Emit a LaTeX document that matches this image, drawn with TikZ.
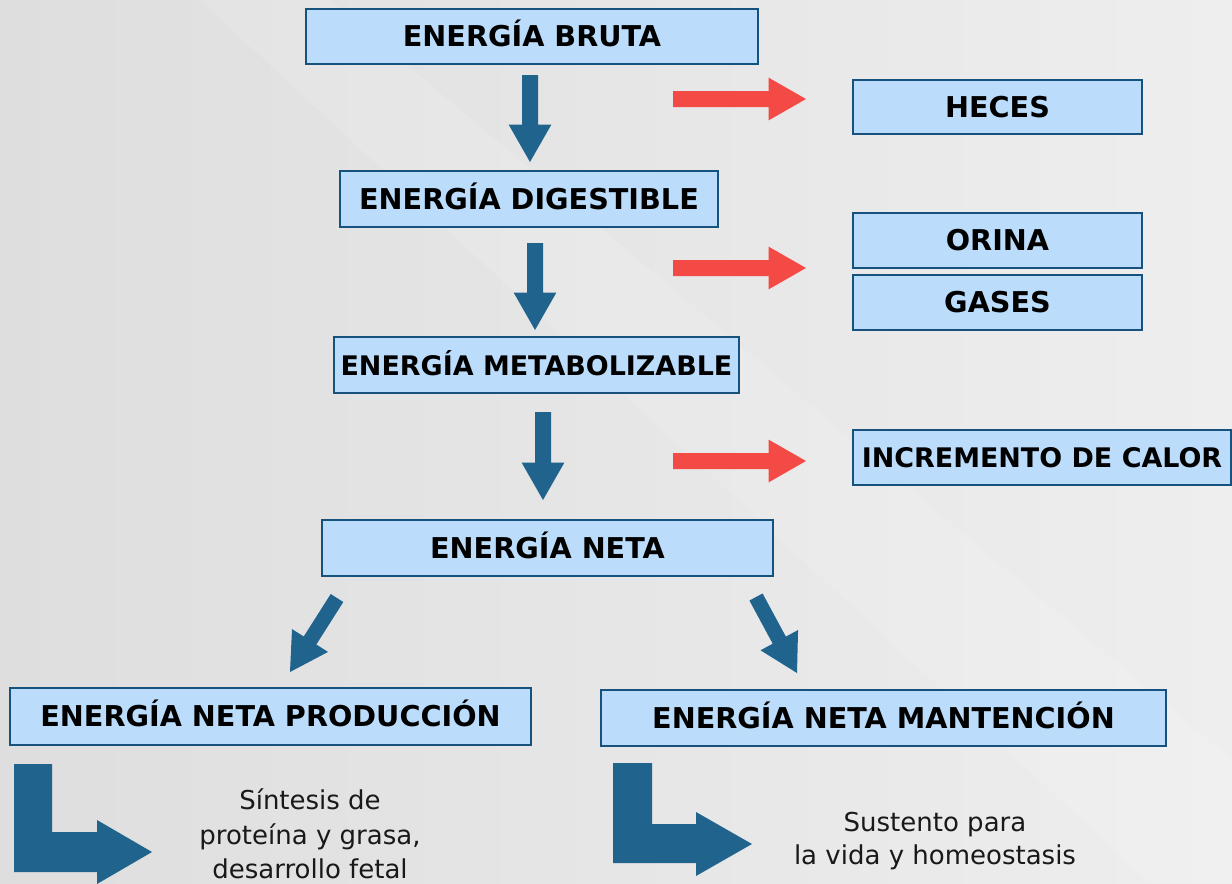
\documentclass[tikz,border=0pt]{standalone}
\usepackage{fontspec}
\setmainfont{DejaVu Sans}
\usetikzlibrary{calc}
\definecolor{boxfill}{HTML}{BBDDFB}
\definecolor{boxline}{HTML}{17527F}
\definecolor{arrblue}{HTML}{20638D}
\definecolor{arrred}{HTML}{F34A45}
\definecolor{bgL}{HTML}{DEDEDE}
\definecolor{bgR}{HTML}{EEEEEE}
\newcommand\blockarrow[6]{%
  \coordinate (hb) at ($(#3)!#6!(#2)$);
  \fill[#1] ($(#2)!#4!90:(#3)$) -- ($(hb)!#4!-90:(#2)$) -- ($(hb)!#5!-90:(#2)$) -- (#3)
    -- ($(hb)!#5!90:(#2)$) -- ($(hb)!#4!90:(#2)$) -- ($(#2)!#4!-90:(#3)$) -- cycle;}
\tikzset{
  box/.style={draw=boxline, line width=2.1pt, fill=boxfill, inner sep=0pt,
    font=\fontsize{21.5}{24}\selectfont\bfseries, text=black,
    text height=15.6pt, text depth=0.6pt},
  boxsm/.style={box, font=\fontsize{20.2}{24}\selectfont\bfseries},
  plain/.style={font=\fontsize{19.5}{26}\selectfont, align=center, text=black!90}
}
\begin{document}
\begin{tikzpicture}[x=0.75pt,y=-0.75pt]
\useasboundingbox (0,0) rectangle (1232,883);
\shade[left color=bgL, right color=bgR] (0,0) rectangle (1232,883);
\fill[white, opacity=0.12] (200,0) -- (330,0) -- (1232,760) -- (1232,883) -- (1150,883) -- cycle;
% boxes
\node[box, minimum width=452*0.75pt, minimum height=55*0.75pt] (eb) at (532,36.5) {ENERGÍA BRUTA};
\node[box, minimum width=289*0.75pt, minimum height=54*0.75pt] (hec) at (997.5,107) {HECES};
\node[box, minimum width=378*0.75pt, minimum height=56*0.75pt] (ed) at (529,199) {ENERGÍA DIGESTIBLE};
\node[box, minimum width=289*0.75pt, minimum height=55*0.75pt] (ori) at (997.5,240.5) {ORINA};
\node[box, minimum width=289*0.75pt, minimum height=55*0.75pt] (gas) at (997.5,302.5) {GASES};
\node[boxsm, minimum width=405*0.75pt, minimum height=56*0.75pt] (em) at (536.5,365) {ENERGÍA METABOLIZABLE};
\node[boxsm, minimum width=378*0.75pt, minimum height=55*0.75pt] (ic) at (1042,457.5) {INCREMENTO DE CALOR};
\node[box, minimum width=451*0.75pt, minimum height=56*0.75pt] (en) at (547.5,548) {ENERGÍA NETA};
\node[box, minimum width=521*0.75pt, minimum height=57*0.75pt] (enp) at (270.5,716.5) {ENERGÍA NETA PRODUCCIÓN};
\node[box, minimum width=565*0.75pt, minimum height=56*0.75pt] (enm) at (883.5,718) {ENERGÍA NETA MANTENCIÓN};
% down arrows
\coordinate (a1s) at (530,75);  \coordinate (a1e) at (530,162);
\coordinate (a2s) at (535,243); \coordinate (a2e) at (535,330);
\coordinate (a3s) at (543,412); \coordinate (a3e) at (543,500);
\blockarrow{arrblue}{a1s}{a1e}{6pt}{16pt}{28pt}
\blockarrow{arrblue}{a2s}{a2e}{6pt}{16pt}{28pt}
\blockarrow{arrblue}{a3s}{a3e}{6pt}{16pt}{28pt}
% red arrows
\coordinate (r1s) at (673,99);  \coordinate (r1e) at (806,99);
\coordinate (r2s) at (673,268); \coordinate (r2e) at (806,268);
\coordinate (r3s) at (673,461); \coordinate (r3e) at (806,461);
\blockarrow{arrred}{r1s}{r1e}{6pt}{16pt}{28pt}
\blockarrow{arrred}{r2s}{r2e}{6pt}{16pt}{28pt}
\blockarrow{arrred}{r3s}{r3e}{6pt}{16pt}{28pt}
% diagonal arrows
\coordinate (d1s) at (337,598); \coordinate (d1e) at (290,672);
\coordinate (d2s) at (756,597); \coordinate (d2e) at (797,673);
\blockarrow{arrblue}{d1s}{d1e}{5.6pt}{16pt}{28pt}
\blockarrow{arrblue}{d2s}{d2e}{5.6pt}{16pt}{28pt}
% L arrows
\fill[arrblue] (14,764) -- (52,764) -- (52,832) -- (97,832) -- (97,820) -- (152,852)
  -- (97,884) -- (97,872) -- (14,872) -- cycle;
\fill[arrblue] (613,763) -- (652,763) -- (652,824) -- (696,824) -- (696,812) -- (752,844)
  -- (696,876) -- (696,863) -- (613,863) -- cycle;
% texts
\node[plain] (t1) at (310,834) {Síntesis de\\proteína y grasa,\\desarrollo fetal};
\node[plain, font=\fontsize{19.5}{24.5}\selectfont] (t2) at (935,841) {Sustento para\\la vida y homeostasis};
\end{tikzpicture}
\end{document}
